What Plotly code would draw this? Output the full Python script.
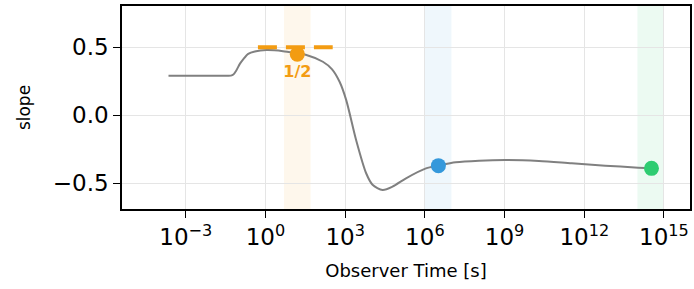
import plotly.graph_objects as go

# ---- data ----
time_s = [2.24e-4, 0.035, 0.050, 0.062, 0.080, 0.110, 0.145, 0.224, 0.398, 1.10, 4.57, 15.8, 34.7,
          145, 316, 617, 1096, 2570, 6166, 10715, 25704, 60256, 1.95e5, 1.10e6, 3.24e6,
          1.45e7, 1.10e8, 1.10e9, 1.95e10, 3.39e11, 6.17e12, 1.07e14, 3.39e14]
slope = [0.291, 0.291, 0.292, 0.30, 0.33, 0.38, 0.412, 0.452, 0.470, 0.480, 0.472, 0.455, 0.444,
         0.394, 0.34, 0.247, 0.112, -0.18, -0.426, -0.51, -0.549, -0.525, -0.463, -0.39, -0.37,
         -0.346, -0.334, -0.329, -0.336, -0.353, -0.37, -0.385, -0.39]

band_start = [5, 1e6, 1e14]
band_end = [50, 1e7, 1e15]
band_colors = ["rgba(243,156,18,0.08)", "rgba(52,152,219,0.08)", "rgba(46,204,113,0.09)"]

point_time = [15.8, 3.24e6, 3.39e14]
point_slope = [0.45, -0.37, -0.39]
point_colors = ["#f39c12", "#3498db", "#2ecc71"]
point_labels = ["1/2", "", ""]

ref_time = [0.52, 340]
ref_slope = [0.5, 0.5]

x_tick_vals = [1e-3, 1e0, 1e3, 1e6, 1e9, 1e12, 1e15]
x_tick_text = ["10<sup>−3</sup>", "10<sup>0</sup>", "10<sup>3</sup>", "10<sup>6</sup>",
               "10<sup>9</sup>", "10<sup>12</sup>", "10<sup>15</sup>"]
y_tick_vals = [-0.5, 0.0, 0.5]
y_tick_text = ["−0.5", "0.0", "0.5"]

FONT = "DejaVu Sans"

fig = go.Figure()

for x0, x1, c in zip(band_start, band_end, band_colors):
    fig.add_vrect(x0=x0, x1=x1, fillcolor=c, line_width=0, layer="below")

fig.add_trace(go.Scatter(x=time_s, y=slope, mode="lines",
                         line=dict(color="#808080", width=2, shape="spline", smoothing=0.8),
                         showlegend=False, hoverinfo="skip"))

fig.add_trace(go.Scatter(x=ref_time, y=ref_slope, mode="lines",
                         line=dict(color="#f39c12", width=4, dash="19px,9px"),
                         showlegend=False))

for xt, yv, c, lab in zip(point_time, point_slope, point_colors, point_labels):
    fig.add_trace(go.Scatter(x=[xt], y=[yv], mode="markers+text" if lab else "markers",
                             marker=dict(color=c, size=15, line=dict(width=0)),
                             text=[f"<b>{lab}</b>"] if lab else None,
                             textposition="bottom center",
                             textfont=dict(family=FONT, size=16, color=c),
                             showlegend=False))

fig.update_layout(
    width=694, height=289,
    margin=dict(l=122, r=2, t=6, b=80),
    paper_bgcolor="white", plot_bgcolor="white",
    font=dict(family=FONT, color="black"),
)
fig.update_xaxes(type="log", range=[-5.40, 15.98],
                 tickvals=x_tick_vals, ticktext=x_tick_text,
                 tickfont=dict(size=23), ticks="outside", ticklen=7, tickwidth=1.3,
                 tickcolor="black",
                 showgrid=True, gridcolor="#e5e5e5", gridwidth=1.4,
                 showline=True, linecolor="black", linewidth=1.6, mirror=True,
                 zeroline=False,
                 title=dict(text="Observer Time [s]", font=dict(size=18), standoff=15))
fig.update_yaxes(range=[-0.689, 0.804],
                 tickvals=y_tick_vals, ticktext=y_tick_text,
                 tickfont=dict(size=23), ticks="outside", ticklen=7, tickwidth=1.3,
                 tickcolor="black",
                 showgrid=True, gridcolor="#e5e5e5", gridwidth=1.4,
                 showline=True, linecolor="black", linewidth=1.6, mirror=True,
                 zeroline=False,
                 title=dict(text="slope", font=dict(size=17), standoff=18))

fig.write_html("out.html", config={"displayModeBar": False},
               post_script="document.body.style.margin='0';document.body.style.overflow='hidden';")
